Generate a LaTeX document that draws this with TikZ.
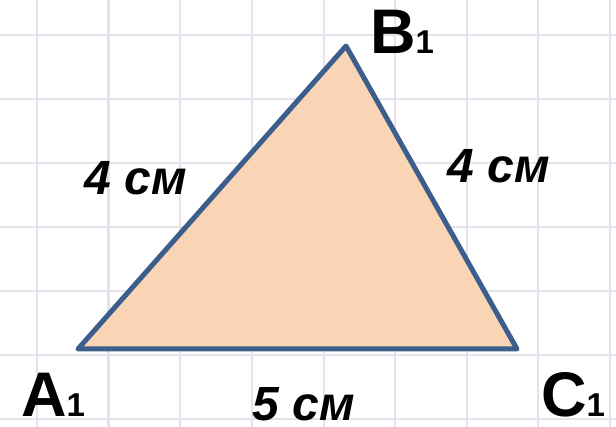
\documentclass[tikz,border=0pt]{standalone}
\usepackage{fontspec}
\setmainfont{Liberation Sans}
\definecolor{gridline}{RGB}{232,224,235}
\definecolor{edgeblue}{RGB}{59,94,140}
\definecolor{peach}{RGB}{250,213,181}
\newcommand{\idx}[1]{{\fontsize{33}{33}\selectfont #1}}
\begin{document}
\begin{tikzpicture}[x=1pt, y=-1pt,
    vlabel/.style={font=\bfseries\fontsize{63}{63}\selectfont, inner sep=0pt, anchor=base west},
    slabel/.style={font=\bfseries\itshape\fontsize{48}{48}\selectfont, inner sep=0pt, anchor=base}]
    \useasboundingbox (0,0) rectangle (616,427);
    \fill[white] (0,0) rectangle (616,427);
    % squared paper
    \foreach \x in {37,108.5,180,252,324,395,467,538,610}
        \draw[gridline, line width=2.8pt] (\x,0) -- (\x,427);
    \foreach \y in {35,99,163,227,291,355,419}
        \draw[gridline, line width=2.8pt] (0,\y) -- (616,\y);
    % triangle
    \coordinate (A1) at (78,349);
    \coordinate (B1) at (346,46);
    \coordinate (C1) at (517,349);
    \filldraw[fill=peach, draw=edgeblue, line width=5pt, line join=round] (A1) -- (B1) -- (C1) -- cycle;
    \node[vlabel] (labA) at (21,417) {A\idx{1}};
    \node[vlabel] (labB) at (370,54) {B\idx{1}};
    \node[vlabel] (labC) at (541,417) {C\idx{1}};
    \node[slabel] (sideAB) at (135.5,195) {4 см};
    \node[slabel] (sideBC) at (499,183) {4 см};
    \node[slabel] (sideAC) at (303.5,421) {5 см};
\end{tikzpicture}
\end{document}
